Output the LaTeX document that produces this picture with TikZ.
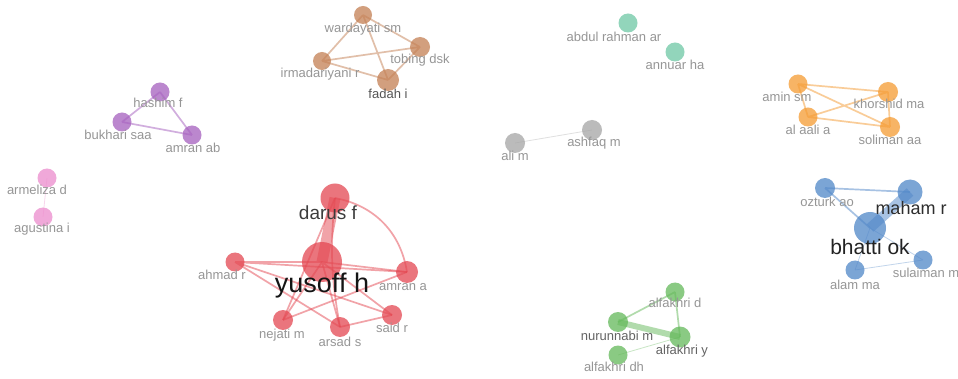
\documentclass[tikz,border=0pt]{standalone}
\usepackage{fontspec}
\setmainfont{Liberation Sans}
\pgfdeclarelayer{bg}
\pgfsetlayers{bg,main}
\definecolor{cRed}{RGB}{228,72,82}
\definecolor{cBrown}{RGB}{196,128,84}
\definecolor{cPurple}{RGB}{165,95,190}
\definecolor{cPink}{RGB}{236,140,205}
\definecolor{cGrey}{RGB}{165,165,165}
\definecolor{cTeal}{RGB}{110,200,165}
\definecolor{cOrange}{RGB}{245,155,50}
\definecolor{cBlue}{RGB}{80,135,200}
\definecolor{cGreen}{RGB}{100,185,90}
\definecolor{labgrey}{RGB}{150,150,150}
\tikzset{
  nd/.style={circle, inner sep=0pt, minimum size=#1, fill opacity=0.75},
  lab/.style={inner sep=0pt, text=labgrey, font=\fontsize{13}{14}\selectfont},
  biglab/.style={inner sep=0pt, font=\fontsize{#1}{#1}\selectfont},
  edge/.style={line width=1.7pt, draw opacity=0.5},
  faint/.style={line width=0.8pt, draw opacity=0.35},
}
\begin{document}
\begin{tikzpicture}[x=1pt,y=-1pt]
\useasboundingbox (0,0) rectangle (958,379);
\begin{pgfonlayer}{bg}
\fill[white] (0,0) rectangle (958,379);
\end{pgfonlayer}

% brown cluster
\node[nd=18, fill=cBrown] (ward) at (363,15) {};
\node[nd=20, fill=cBrown] (tob) at (420,47) {};
\node[nd=18, fill=cBrown] (irm) at (322,61) {};
\node[nd=22, fill=cBrown] (fad) at (388,80) {};
\begin{pgfonlayer}{bg}
\draw[edge, cBrown] (ward.center) -- (irm.center) (ward.center) -- (fad.center) (ward.center) -- (tob.center) (irm.center) -- (tob.center) (irm.center) -- (fad.center) (tob.center) -- (fad.center);
\end{pgfonlayer}
\node[lab] (lward) at (363,29) {wardayati sm};
\node[lab] (ltob) at (420,60) {tobing dsk};
\node[lab] (lirm) at (320,74) {irmadariyani r};
\node[lab, text={rgb,255:red,85;green,85;blue,85}] (lfad) at (388,94) {fadah i};

% purple cluster
\node[nd=19, fill=cPurple] (hash) at (160,92) {};
\node[nd=19, fill=cPurple] (bukh) at (122,122) {};
\node[nd=19, fill=cPurple] (amab) at (192,135) {};
\begin{pgfonlayer}{bg}
\draw[edge, cPurple] (hash.center) -- (bukh.center) (hash.center) -- (amab.center) (bukh.center) -- (amab.center);
\end{pgfonlayer}
\node[lab] (lhash) at (158,103) {hashim f};
\node[lab] (lbukh) at (118,135) {bukhari saa};
\node[lab] (lamab) at (193,148) {amran ab};

% pink cluster
\node[nd=19, fill=cPink] (arme) at (47,178) {};
\node[nd=19, fill=cPink] (agus) at (43,217) {};
\begin{pgfonlayer}{bg}
\draw[faint, cPink] (arme.center) -- (agus.center);
\end{pgfonlayer}
\node[lab] (larme) at (37,190) {armeliza d};
\node[lab] (lagus) at (42,229) {agustina i};

% red cluster
\node[nd=29, fill=cRed] (darus) at (335,198) {};
\node[nd=40, fill=cRed] (yus) at (322,262) {};
\node[nd=19, fill=cRed] (ahm) at (235,262) {};
\node[nd=22, fill=cRed] (amra) at (407,272) {};
\node[nd=20, fill=cRed] (said) at (392,315) {};
\node[nd=20, fill=cRed] (arsad) at (340,327) {};
\node[nd=20, fill=cRed] (nej) at (283,320) {};
\begin{pgfonlayer}{bg}
\draw[cRed, line width=11pt, draw opacity=0.5] (darus.center) -- (yus.center);
\draw[edge, cRed] (darus.center) to[bend left=35] (amra.center);
\draw[edge, cRed] (darus.center) -- (nej.center);
\draw[edge, cRed] (darus.center) to[bend right=8] (arsad.center);
\draw[edge, cRed] (ahm.center) -- (yus.center) (ahm.center) -- (amra.center) (ahm.center) -- (said.center) (ahm.center) -- (arsad.center);
\draw[edge, cRed] (yus.center) -- (amra.center) (yus.center) -- (said.center) (yus.center) -- (arsad.center) (yus.center) -- (nej.center);
\draw[edge, cRed] (nej.center) -- (amra.center) (arsad.center) -- (said.center);
\end{pgfonlayer}
\node[biglab=19, text={rgb,255:red,60;green,60;blue,60}] (ldarus) at (328,213) {darus f};
\node[biglab=27, text={rgb,255:red,20;green,20;blue,20}] (lyus) at (322,286) {yusoff h};
\node[lab] (lahm) at (222,275) {ahmad r};
\node[lab] (lamra) at (403,287) {amran a};
\node[lab] (lsaid) at (392,328) {said r};
\node[lab] (larsad) at (340,342) {arsad s};
\node[lab] (lnej) at (282,335) {nejati m};

% grey cluster
\node[nd=20, fill=cGrey] (ali) at (515,143) {};
\node[nd=20, fill=cGrey] (ashf) at (592,130) {};
\begin{pgfonlayer}{bg}
\draw[faint, cGrey] (ali.center) -- (ashf.center);
\end{pgfonlayer}
\node[lab] (lali) at (515,156) {ali m};
\node[lab] (lashf) at (594,143) {ashfaq m};

% teal cluster
\node[nd=19, fill=cTeal] (abd) at (628,23) {};
\node[nd=19, fill=cTeal] (ann) at (675,52) {};
\node[lab] (labd) at (614,37) {abdul rahman ar};
\node[lab] (lann) at (675,65) {annuar ha};

% orange cluster
\node[nd=19, fill=cOrange] (amin) at (798,84) {};
\node[nd=20, fill=cOrange] (khor) at (888,92) {};
\node[nd=19, fill=cOrange] (aali) at (808,117) {};
\node[nd=20, fill=cOrange] (soli) at (890,127) {};
\begin{pgfonlayer}{bg}
\draw[edge, cOrange] (amin.center) -- (khor.center) (amin.center) -- (aali.center) (amin.center) -- (soli.center) (aali.center) -- (khor.center) (aali.center) -- (soli.center) (khor.center) -- (soli.center);
\end{pgfonlayer}
\node[lab] (lamin) at (787,97) {amin sm};
\node[lab] (lkhor) at (889,104) {khorshid ma};
\node[lab] (laali) at (808,130) {al aali a};
\node[lab] (lsoli) at (890,140) {soliman aa};

% blue cluster
\node[nd=20, fill=cBlue] (ozt) at (825,188) {};
\node[nd=25, fill=cBlue] (maham) at (910,192) {};
\node[nd=32, fill=cBlue] (bhat) at (870,228) {};
\node[nd=19, fill=cBlue] (alam) at (855,270) {};
\node[nd=19, fill=cBlue] (sula) at (923,260) {};
\begin{pgfonlayer}{bg}
\draw[edge, cBlue] (ozt.center) -- (maham.center) (ozt.center) -- (bhat.center);
\draw[cBlue, line width=10pt, draw opacity=0.5] (maham.center) -- (bhat.center);
\draw[faint, cBlue] (bhat.center) -- (alam.center) (bhat.center) -- (sula.center) (alam.center) -- (sula.center);
\end{pgfonlayer}
\node[lab] (lozt) at (827,202) {ozturk ao};
\node[biglab=18, text={rgb,255:red,45;green,45;blue,45}] (lmaham) at (911,208) {maham r};
\node[biglab=21, text={rgb,255:red,35;green,35;blue,35}] (lbhat) at (870,247) {bhatti ok};
\node[lab] (lalam) at (855,285) {alam ma};
\node[lab] (lsula) at (926,273) {sulaiman m};

% green cluster
\node[nd=19, fill=cGreen] (afd) at (675,292) {};
\node[nd=20, fill=cGreen] (nuru) at (618,322) {};
\node[nd=21, fill=cGreen] (afy) at (680,337) {};
\node[nd=19, fill=cGreen] (afdh) at (618,355) {};
\begin{pgfonlayer}{bg}
\draw[edge, cGreen] (afd.center) -- (nuru.center) (afd.center) -- (afy.center);
\draw[cGreen, line width=6pt, draw opacity=0.5] (nuru.center) -- (afy.center);
\draw[faint, cGreen] (afdh.center) -- (afy.center);
\end{pgfonlayer}
\node[lab] (lafd) at (675,303) {alfakhri d};
\node[lab, text={rgb,255:red,100;green,100;blue,100}] (lnuru) at (617,336) {nurunnabi m};
\node[lab, text={rgb,255:red,100;green,100;blue,100}] (lafy) at (682,351) {alfakhri y};
\node[lab] (lafdh) at (614,367) {alfakhri dh};
\end{tikzpicture}
\end{document}
